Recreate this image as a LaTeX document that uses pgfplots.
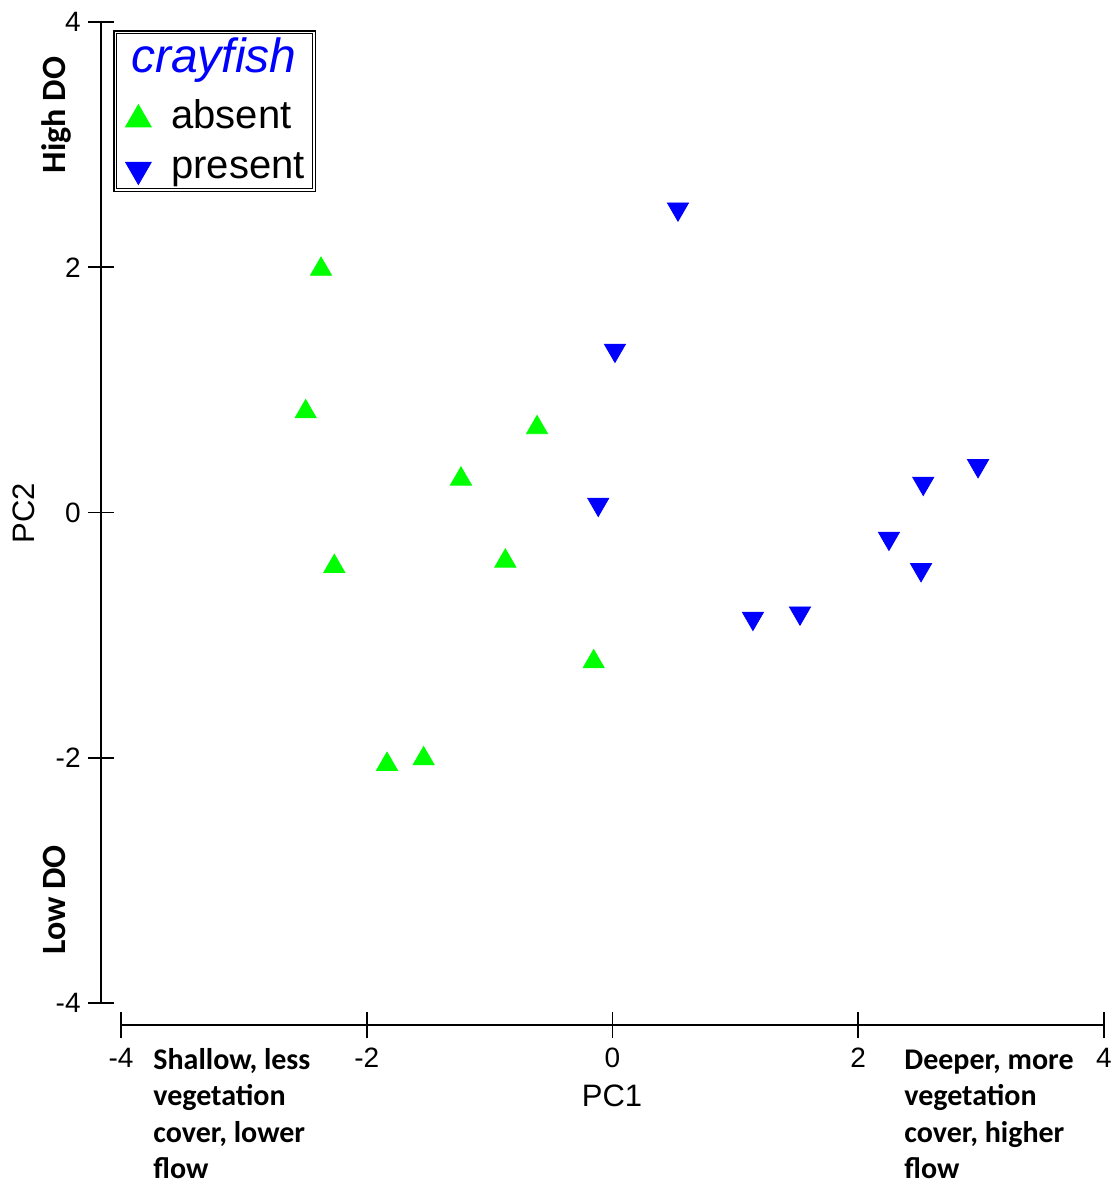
\documentclass[border=0pt]{standalone}
\usepackage{fontspec}
\setmainfont{Liberation Sans}
\newfontfamily\carlito{Carlito}
\usepackage{pgfplots}
\pgfplotsset{compat=1.18}

\definecolor{absentgreen}{RGB}{0,255,0}
\definecolor{presentblue}{RGB}{0,0,255}

% legend images: one bigger mark, then the gap before the text
\pgfplotsset{
    legmark/.style 2 args={legend image code/.code={%
        \path[draw=none, fill=none] (0pt,0pt) -- (24.5pt,0pt);
        \draw[##1, mark options={scale=1.22, rotate=#2}] plot coordinates {(8pt,#1)};}},
}

\begin{document}
\begin{tikzpicture}
\begin{axis}[
    at={(0,0)}, anchor=south west,
    width=491.5pt, height=490.5pt, scale only axis,
    xmin=-4, xmax=4, ymin=-4, ymax=4,
    hide axis, clip=false,
    legend style={at={(0.001,0.9222)}, anchor=north west, draw=none, fill=none,
        inner sep=0pt, font=\fontsize{20}{24}\selectfont,
        nodes={inner sep=0pt, text height=15pt, text depth=5pt},
        cells={anchor=base west}, row sep=5pt},
]
\addplot[only marks, mark=triangle*, mark size=6.1pt, color=absentgreen,
    legmark={4.6pt}{0}]
coordinates {
    (-2.372,1.984) (-2.497,0.822) (-0.614,0.692) (-1.233,0.273)
    (-2.264,-0.440) (-0.872,-0.396) (-0.153,-1.217) (-1.835,-2.054)
    (-1.537,-2.008)
};
\addlegendentry{absent}
\addplot[only marks, mark=triangle*, mark size=6.1pt, mark options={rotate=180},
    color=presentblue, legmark={4.55pt}{180}]
coordinates {
    (0.533,2.475) (0.020,1.323) (-0.116,0.067) (2.975,0.382)
    (2.529,0.238) (2.250,-0.210) (2.511,-0.466) (1.143,-0.863)
    (1.526,-0.820)
};
\addlegendentry{present}
\end{axis}

% everything around the data, in pixels of the reference
\begin{scope}[x=0.5pt, y=-0.5pt, xshift=-60.5pt, yshift=501.5pt]
\path (0,0) rectangle (1118,1185);
% detached y axis
\draw[line width=0.8pt] (101,22) -- (101,1003);
\foreach \y/\l in {22/4, 267.25/2, 512.5/0, 757.75/-2, 1003/-4} {
    \draw[line width=0.8pt] (88,\y) -- (114,\y);
    \node[anchor=east, inner sep=0pt, font=\fontsize{14}{16}\selectfont] at (81,\y) {\l};
}
% detached x axis
\draw[line width=0.8pt] (121,1025) -- (1104,1025);
\foreach \x/\l in {121/-4, 366.75/-2, 612.5/0, 858.25/2, 1104/4} {
    \draw[line width=0.8pt] (\x,1012) -- (\x,1038);
    \node[anchor=north, inner sep=0pt, font=\fontsize{14}{16}\selectfont] at (\x,1048) {\l};
}
\node[anchor=base, inner sep=0pt, font=\fontsize{15.5}{18}\selectfont] at (612,1106.5) {PC1};
\node[anchor=base, rotate=90, inner sep=0pt, font=\fontsize{15.5}{18}\selectfont] at (35,513) {PC2};
\node[anchor=base, rotate=90, inner sep=0pt, font=\carlito\bfseries\fontsize{17}{20}\selectfont] at (66,115) {High DO};
\node[anchor=base, rotate=90, inner sep=0pt, font=\carlito\bfseries\fontsize{17}{20}\selectfont] at (66,900) {Low DO};
\foreach \t [count=\i] in {{Shallow, less}, vegetation, {cover, lower}, flow} {
    \node[anchor=base west, inner sep=0pt, font=\carlito\bfseries\fontsize{15}{18}\selectfont]
        at (153,1069+36.5*\i-36.5) {\t};
}
\foreach \t [count=\i] in {{Deeper, more}, vegetation, {cover, higher}, flow} {
    \node[anchor=base west, inner sep=0pt, font=\carlito\bfseries\fontsize{15}{18}\selectfont]
        at (904,1069+36.5*\i-36.5) {\t};
}
% legend frame and title
\draw[line width=0.6pt] (114,31) rectangle (315.5,191.5);
\draw[line width=0.6pt] (116.8,33.8) rectangle (312.7,188.7);
\node[anchor=base, inner sep=0pt, text=presentblue, font=\itshape\fontsize{24}{28}\selectfont] at (214,73) {crayfish};
\end{scope}
\end{tikzpicture}
\end{document}
